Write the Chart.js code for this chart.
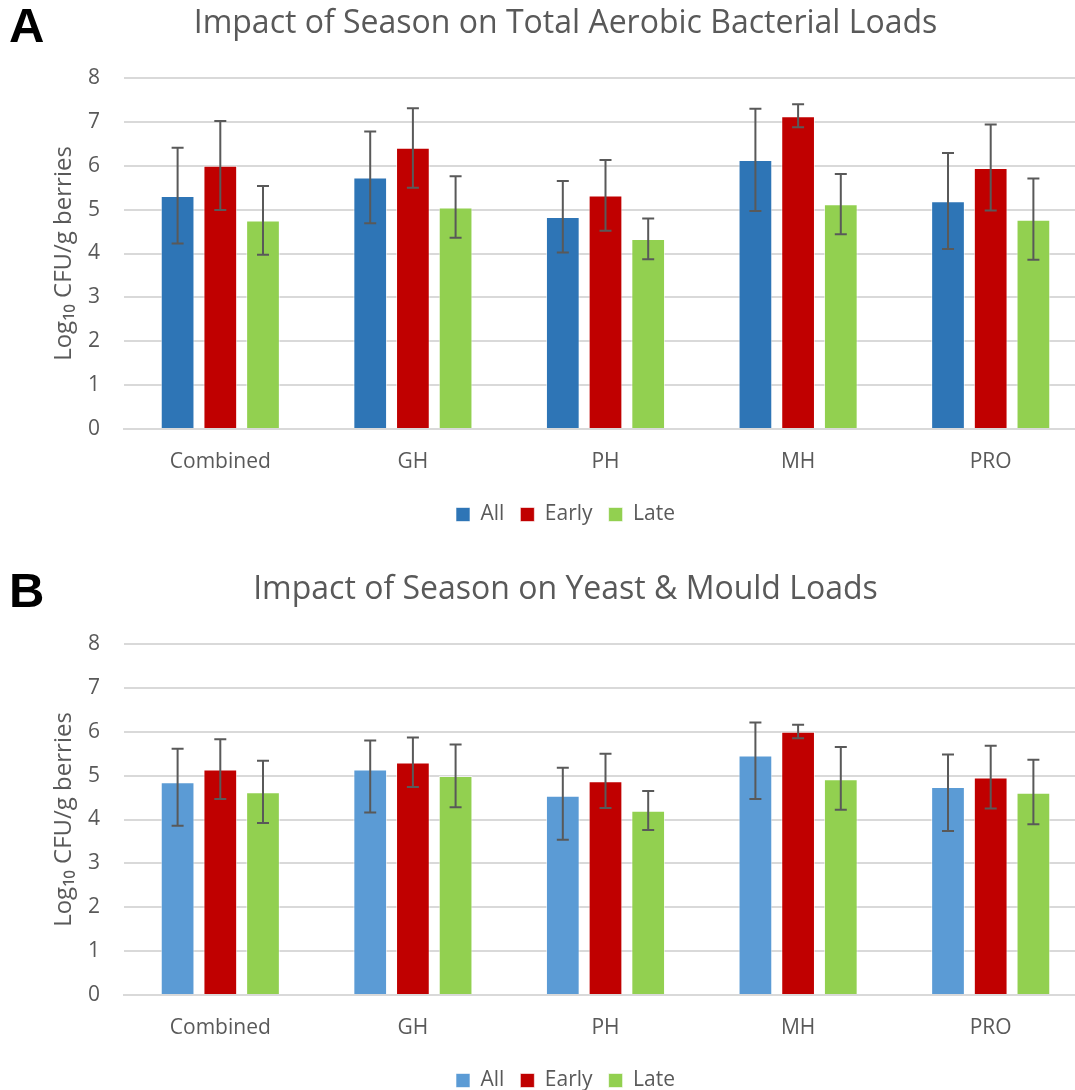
<!DOCTYPE html>
<html>
<head>
<meta charset="utf-8">
<script src="https://cdn.jsdelivr.net/npm/chart.js@4"></script>
<style>
  body { margin: 0; background: #fff; overflow: hidden; }
  .panel { position: absolute; left: 0; width: 1090px; height: 535px; }
  .tag { position: absolute; left: 9px; font: bold 49px "Liberation Sans", Arial, sans-serif; color: #000; }
</style>
</head>
<body>
<div class="panel" style="top:0"><canvas id="chartA" width="1090" height="535"></canvas></div>
<div class="panel" style="top:566px"><canvas id="chartB" width="1090" height="535"></canvas></div>
<div class="tag" style="top:-3px">A</div>
<div class="tag" style="top:562px">B</div>
<script>
// categories and series
const sites = ["Combined", "GH", "PH", "MH", "PRO"];
const seriesNames = ["All", "Early", "Late"];
const yTicks = [0, 1, 2, 3, 4, 5, 6, 7, 8];

// A: total aerobic bacteria (mean, error bar top, error bar bottom)
const aerobicAll = [5.31, 5.73, 4.83, 6.13, 5.19];
const aerobicAllHi = [6.41, 6.78, 5.65, 7.30, 6.29];
const aerobicAllLo = [4.23, 4.69, 4.02, 4.97, 4.10];
const aerobicEarly = [6.00, 6.41, 5.32, 7.13, 5.95];
const aerobicEarlyHi = [7.02, 7.31, 6.13, 7.40, 6.94];
const aerobicEarlyLo = [4.99, 5.50, 4.52, 6.88, 4.98];
const aerobicLate = [4.75, 5.05, 4.33, 5.12, 4.77];
const aerobicLateHi = [5.54, 5.76, 4.80, 5.81, 5.71];
const aerobicLateLo = [3.97, 4.36, 3.87, 4.44, 3.86];

// B: yeast & mould
const yeastAll = [4.85, 5.14, 4.54, 5.46, 4.74];
const yeastAllHi = [5.61, 5.80, 5.18, 6.21, 5.48];
const yeastAllLo = [3.86, 4.16, 3.54, 4.47, 3.74];
const yeastEarly = [5.14, 5.30, 4.87, 6.00, 4.96];
const yeastEarlyHi = [5.83, 5.87, 5.50, 6.16, 5.68];
const yeastEarlyLo = [4.47, 4.74, 4.26, 5.85, 4.25];
const yeastLate = [4.62, 4.99, 4.20, 4.92, 4.61];
const yeastLateHi = [5.34, 5.71, 4.65, 5.65, 5.36];
const yeastLateLo = [3.92, 4.28, 3.76, 4.22, 3.89];

const FONT = "Open Sans";
const GREY = "#595959";

// draws the error bars from each dataset's hi/lo arrays
const errorBars = {
    id: "errorBars",
    afterDatasetsDraw(chart) {
        const ctx = chart.ctx;
        const y = chart.scales.y;
        ctx.save();
        ctx.strokeStyle = GREY;
        ctx.lineWidth = 2;
        chart.data.datasets.forEach((ds, i) => {
            const meta = chart.getDatasetMeta(i);
            meta.data.forEach((bar, j) => {
                const top = y.getPixelForValue(ds.hi[j]);
                const bot = y.getPixelForValue(ds.lo[j]);
                ctx.beginPath();
                ctx.moveTo(bar.x, top); ctx.lineTo(bar.x, bot);
                ctx.moveTo(bar.x - 6, top); ctx.lineTo(bar.x + 6, top);
                ctx.moveTo(bar.x - 6, bot); ctx.lineTo(bar.x + 6, bot);
                ctx.stroke();
            });
        });
        ctx.restore();
    }
};

function makeChart(id, title, colors, vals, his, los) {
    const datasets = seriesNames.map((name, i) => ({
        label: name,
        data: vals[i],
        hi: his[i],
        lo: los[i],
        backgroundColor: colors[i],
        borderColor: "rgba(255,255,255,0.6)",
        borderWidth: 1,
        categoryPercentage: 0.665,
        barPercentage: 0.79
    }));
    return new Chart(document.getElementById(id), {
        type: "bar",
        data: { labels: sites, datasets: datasets },
        plugins: [errorBars],
        options: {
            responsive: false,
            animation: false,
            layout: { padding: { left: 44, right: 3, top: 0, bottom: 0 } },
            plugins: {
                title: {
                    display: true,
                    text: title,
                    color: GREY,
                    font: { family: FONT, size: 32, weight: "normal" },
                    padding: { top: 5, bottom: 34.6 }
                },
                legend: {
                    position: "bottom",
                    labels: {
                        color: GREY,
                        font: { family: FONT, size: 21 },
                        boxWidth: 14,
                        boxHeight: 14,
                        padding: 16
                    }
                },
                tooltip: { enabled: false }
            },
            scales: {
                x: {
                    afterFit: (axis) => { axis.height = 59; },
                    grid: { display: false },
                    border: { color: "#d9d9d9", width: 2 },
                    ticks: { color: GREY, font: { family: FONT, size: 21 }, padding: 12 }
                },
                y: {
                    min: 0,
                    max: 8,
                    afterFit: (axis) => { axis.width = 80; },
                    afterBuildTicks: (axis) => { axis.ticks = yTicks.map(v => ({ value: v })); },
                    grid: { color: "#d9d9d9", lineWidth: 2, drawTicks: false },
                    border: { display: false },
                    ticks: { color: GREY, font: { family: FONT, size: 21 }, padding: 24 },
                    title: {
                        display: true,
                        text: "Log₁₀ CFU/g berries",
                        color: GREY,
                        font: { family: FONT, size: 24 },
                        padding: { top: 6, bottom: 0 }
                    }
                }
            }
        }
    });
}

makeChart("chartA", "Impact of Season on Total Aerobic Bacterial Loads",
    ["#2e75b6", "#c00000", "#92d050"],
    [aerobicAll, aerobicEarly, aerobicLate],
    [aerobicAllHi, aerobicEarlyHi, aerobicLateHi],
    [aerobicAllLo, aerobicEarlyLo, aerobicLateLo]);

makeChart("chartB", "Impact of Season on Yeast & Mould Loads",
    ["#5b9bd5", "#c00000", "#92d050"],
    [yeastAll, yeastEarly, yeastLate],
    [yeastAllHi, yeastEarlyHi, yeastLateHi],
    [yeastAllLo, yeastEarlyLo, yeastLateLo]);
</script>
</body>
</html>
